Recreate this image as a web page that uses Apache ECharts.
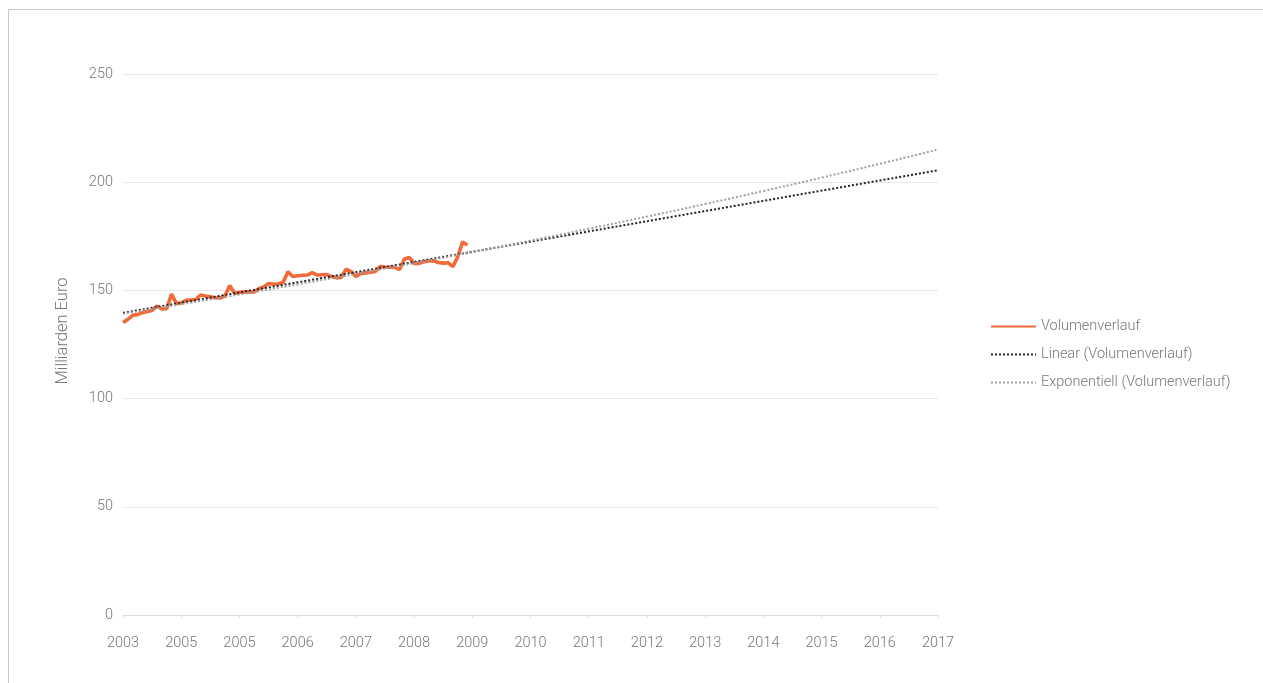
<!DOCTYPE html>
<html>
<head>
<meta charset="utf-8">
<script src="https://cdn.jsdelivr.net/npm/echarts@6/dist/echarts.min.js"></script>
<style>
html,body{margin:0;padding:0;background:#fff;overflow:hidden;}
#chart{position:absolute;left:0;top:0;width:1263px;height:683px;}
#frame{position:absolute;left:8px;top:9px;width:1300px;height:700px;border-left:1px solid #c8c8c8;border-top:1px solid #c8c8c8;pointer-events:none;}
</style>
</head>
<body>
<div id="chart"></div>
<div id="frame"></div>
<script>
// tick labels at each year step (12 months per step)
const tickLabels = ['2003','2005','2005','2006','2007','2008','2009','2010','2011','2012','2013','2014','2015','2016','2017'];
// monthly volume (Milliarden Euro), Jan 2003 .. Dec 2008
const volumen = [
  135.2,136.6,138.5,138.8,139.7,140.2,140.7,142.8,141.4,141.5,148.3,144.0,
  144.2,145.4,145.6,145.8,147.9,147.4,147.0,146.6,146.5,147.4,152.3,148.6,
  149.1,149.3,149.4,149.2,150.8,151.6,153.2,152.8,153.1,153.6,158.6,156.4,
  156.8,157.0,157.1,158.2,157.1,157.2,157.3,156.4,155.8,156.1,159.8,158.7,
  156.4,157.8,158.1,158.4,158.8,161.0,160.8,160.7,160.7,159.6,164.5,165.2,
  162.5,162.5,163.2,163.6,163.7,162.9,162.6,162.8,161.0,165.5,172.4,171.0
];
// linear trend endpoints (month index, value)
const linearIdx = [0, 168];
const linearVal = [139.6, 205.5];
// exponential trend read at each year tick
const expIdx = [0,12,24,36,48,60,72,84,96,108,120,132,144,156,168];
const expVal = [139.2,143.6,148.1,152.8,157.6,162.6,167.7,173.0,178.5,184.1,189.9,195.9,202.1,208.5,215.1];

const volData = volumen.map((v,i)=>[i,v]);
const linData = linearIdx.map((x,i)=>[x,linearVal[i]]);
const expData = expIdx.map((x,i)=>[x,expVal[i]]);

const font = 'Roboto, "Noto Sans", sans-serif';
const txt = '#777777';
const fs = 14.5;
const chart = echarts.init(document.getElementById('chart'));
chart.setOption({
  animation:false,
  textStyle:{fontFamily:font},
  grid:{left:123,right:325,top:74,bottom:68,containLabel:false},
  legend:{
    orient:'vertical', left:985, top:314,
    itemWidth:45, itemHeight:14, itemGap:13,
    itemStyle:{opacity:0},
    textStyle:{color:txt,fontSize:fs,fontFamily:font,fontWeight:300},
    data:['Volumenverlauf','Linear (Volumenverlauf)','Exponentiell (Volumenverlauf)']
  },
  graphic:[{
    type:'text', x:63, y:331, rotation:Math.PI/2,
    style:{text:'Milliarden Euro', fill:txt, font:'300 16.5px Roboto, "Noto Sans", sans-serif',
      align:'center', verticalAlign:'middle'}
  }],
  xAxis:{
    type:'value', min:0, max:168, interval:12,
    axisLine:{show:true,lineStyle:{color:'#dcdcdc',width:1}},
    axisTick:{show:true,length:3,lineStyle:{color:'#dcdcdc'}},
    splitLine:{show:false},
    axisLabel:{color:txt,fontSize:fs,fontFamily:font,fontWeight:300,margin:21,
      formatter:function(v){return tickLabels[Math.round(v/12)]||'';}}
  },
  yAxis:{
    type:'value', min:0, max:250, interval:50,
    axisLine:{show:false}, axisTick:{show:false},
    splitLine:{lineStyle:{color:'#e6e6e6',width:1}},
    axisLabel:{color:txt,fontSize:fs,fontFamily:font,fontWeight:300,margin:10}
  },
  series:[
    {name:'Volumenverlauf',type:'line',data:volData,showSymbol:false,symbol:'none',
      lineStyle:{color:'#f2693a',width:3.6},itemStyle:{color:'#f2693a'},z:2},
    {name:'Linear (Volumenverlauf)',type:'line',data:linData,showSymbol:false,symbol:'none',
      lineStyle:{color:'#222',width:2,type:[2,2]},itemStyle:{color:'#222'},z:3},
    {name:'Exponentiell (Volumenverlauf)',type:'line',data:expData,showSymbol:false,symbol:'none',smooth:true,
      lineStyle:{color:'#a0a0a0',width:2,type:[2,2]},itemStyle:{color:'#a0a0a0'},z:3}
  ]
});
</script>
</body>
</html>
